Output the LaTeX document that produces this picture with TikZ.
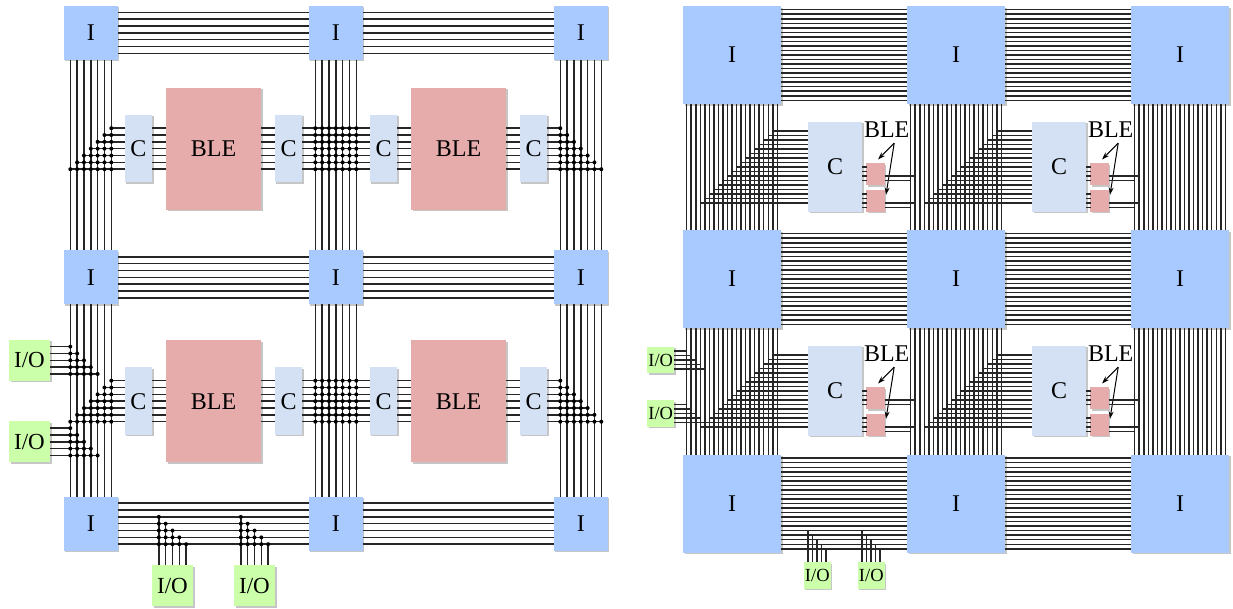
\documentclass[tikz,border=0pt]{standalone}
\usepackage{fontspec}
\setmainfont{Liberation Serif}
\usetikzlibrary{calc, shadows, arrows.meta}
\tikzset{x=1pt,y=-1pt}
\definecolor{colI}{HTML}{A9CAFF}
\definecolor{colC}{HTML}{D4E1F5}
\definecolor{colB}{HTML}{E6ACAC}
\definecolor{colO}{HTML}{CCFFAA}
\tikzset{
  box/.style={inner sep=0pt,outer sep=0pt,drop shadow={shadow xshift=1.5pt,shadow yshift=-1.5pt,opacity=.45}},
  bigtext/.style={font=\fontsize{24}{24}\selectfont},
  lI/.style={box,bigtext,fill=colI,minimum size=54pt},
  lC/.style={box,bigtext,fill=colC,minimum width=27.5pt,minimum height=67.5pt},
  lB/.style={box,bigtext,fill=colB,minimum width=95pt,minimum height=122pt},
  lO/.style={box,font=\fontsize{23}{23}\selectfont,fill=colO,minimum size=41pt},
  rI/.style={box,bigtext,fill=colI,minimum size=98pt},
  rC/.style={box,bigtext,fill=colC,minimum width=54pt,minimum height=90pt},
  rB/.style={box,fill=colB,minimum width=18.4pt,minimum height=22pt},
  rO/.style={box,font=\fontsize{18.5}{18.5}\selectfont,fill=colO,minimum size=26.7pt},
  wire/.style={line width=1.5pt,black!85},
  thin wire/.style={line width=1.5pt,black!85},
  pointer/.style={-{Stealth[length=7.5pt,width=5pt]},line width=1pt},
}
\begin{document}
\begin{tikzpicture}[declare function={lt(\i)=-20.5+6.833*\i; rt(\i)=-45.3+4.53*\i;}]
\useasboundingbox (0,0) rectangle (1233,608);
% left grid
\foreach \c/\x in {0/90.8,1/335.8,2/580.8}
  \foreach \r/\y in {0/32.8,1/277.3,2/523.7}
    \node[lI] (lI\r\c) at (\x,\y) {I};
\foreach \r/\y in {0/148.7,1/401.2}
  \foreach \c/\x in {0/0,1/245} {
    \node[lB] (lB\r\c) at (213.5+\x,\y) {BLE};
    \node[lC] (lL\r\c) at (138.5+\x,\y) {C};
    \node[lC] (lR\r\c) at (288.5+\x,\y) {C};
  }
\node[lO] (lOa) at (29.5,360.3) {I/O};
\node[lO] (lOb) at (29.5,441.8) {I/O};
\node[lO] (lOc) at (172.5,585.5) {I/O};
\node[lO] (lOd) at (254.5,585.5) {I/O};
% tracks
\foreach \i in {0,...,6} {
  \foreach \r in {0,1,2}
    \foreach \c/\d in {0/1,1/2}
      \draw[wire] ($(lI\r\c.east)+(0,{lt(\i)})$) -- ($(lI\r\d.west)+(0,{lt(\i)})$);
  \foreach \c in {0,1,2}
    \foreach \r/\s in {0/1,1/2}
      \draw[wire] ($(lI\r\c.south)+({lt(\i)},0)$) -- ($(lI\s\c.north)+({lt(\i)},0)$);
}
% C and BLE wires
\foreach \r in {0,1}
  \foreach \i in {0,...,6} {
    \foreach \c in {0,1} {
      \draw[wire] ($(lL\r\c.east)+(0,{lt(\i)})$) -- ($(lB\r\c.west)+(0,{lt(\i)})$);
      \draw[wire] ($(lB\r\c.east)+(0,{lt(\i)})$) -- ($(lR\r\c.west)+(0,{lt(\i)})$);
    }
    \draw[wire] ($(lR\r0.east)+(0,{lt(\i)})$) -- ($(lL\r1.west)+(0,{lt(\i)})$);
    \pgfmathtruncatemacro{\k}{6-\i}
    \coordinate (rowa) at ($(lL\r0.west)+(0,{lt(\i)})$);
    \coordinate (rowb) at ($(lR\r1.east)+(0,{lt(\i)})$);
    \draw[wire] ($(rowa -| lI\r0.center)+({lt(\k)},0)$) -- (rowa);
    \draw[wire] (rowb) -- ($(rowb -| lI\r2.center)+({lt(\i)},0)$);
    \foreach \j in {0,...,6} {
      \fill ($(rowa -| lI\r1.center)+({lt(\j)},0)$) circle[radius=2];
      \ifnum\j<\k\else \fill ($(rowa -| lI\r0.center)+({lt(\j)},0)$) circle[radius=2]; \fi
      \ifnum\j>\i\else \fill ($(rowb -| lI\r2.center)+({lt(\j)},0)$) circle[radius=2]; \fi
    }
  }
% left I/O
\foreach \n in {a,b}
  \foreach \i in {0,...,4} {
    \pgfmathsetmacro{\o}{(\i-2)*6.833}
    \coordinate (row) at ($(lO\n.east)+(0,\o)$);
    \draw[wire] (row) -- ($(row -| lI10.center)+({lt(\i)},0)$);
    \foreach \j in {0,...,\i}
      \fill ($(row -| lI10.center)+({lt(\j)},0)$) circle[radius=2];
  }
% bottom I/O
\foreach \n in {c,d}
  \foreach \i in {0,...,4} {
    \pgfmathsetmacro{\o}{(\i-2)*6.833}
    \pgfmathtruncatemacro{\k}{\i+2}
    \coordinate (col) at ($(lO\n.north)+(\o,0)$);
    \draw[wire] (col) -- ($(col |- lI20.center)+(0,{lt(\k)})$);
    \foreach \j in {\k,...,6}
      \fill ($(col |- lI20.center)+(0,{lt(\j)})$) circle[radius=2];
  }
% right grid
\foreach \c/\x in {0/732,1/956,2/1180}
  \foreach \r/\y in {0/55,1/279,2/503.5}
    \node[rI] (rI\r\c) at (\x,\y) {I};
\foreach \r/\y in {0/0,1/224}
  \foreach \c/\x in {0/0,1/224} {
    \node[rC] (rC\r\c) at (835+\x,166.8+\y) {C};
    \node[rB] (rBa\r\c) at (875.5+\x,174+\y) {};
    \node[rB] (rBb\r\c) at (875.5+\x,200.8+\y) {};
    \node[bigtext,inner sep=0pt] (rT\r\c) at (886.7+\x,130+\y) {BLE};
    \coordinate (rF\r\c) at ($(rT\r\c.south)+(7.5,5)$);
    \draw[pointer] (rF\r\c) -- ($(rBa\r\c.north)+(2.5,-3.5)$);
    \draw[pointer] (rF\r\c) -- ($(rBb\r\c.north east)+(1.3,5)$);
  }
\node[rO] (rOa) at (660.7,360) {I/O};
\node[rO] (rOb) at (660.7,413.5) {I/O};
\node[rO] (rOc) at (817.3,575.5) {I/O};
\node[rO] (rOd) at (871.3,575.5) {I/O};
% tracks
\foreach \i in {0,...,20} {
  \foreach \r in {0,1,2}
    \foreach \c/\d in {0/1,1/2}
      \draw[thin wire] ($(rI\r\c.east)+(0,{rt(\i)})$) -- ($(rI\r\d.west)+(0,{rt(\i)})$);
  \foreach \c in {0,1,2}
    \foreach \r/\s in {0/1,1/2}
      \draw[thin wire] ($(rI\r\c.south)+({rt(\i)},0)$) -- ($(rI\s\c.north)+({rt(\i)},0)$);
}
% C inputs and BLE wires
\foreach \r in {0,1}
  \foreach \c/\d in {0/1,1/2} {
    \foreach \i in {0,...,16} {
      \pgfmathtruncatemacro{\k}{19-\i}
      \coordinate (row) at ($(rC\r\c.west)+(0,{(\i-8)*4.5})$);
      \draw[thin wire] (row) -- ($(row -| rI\r\c.center)+({rt(\k)},0)$);
    }
    \foreach \o in {0,4.5,9,13.5}
      \draw[thin wire] ($(rC\r\c.east)+(0,\o)$) -- +(4.5,0);
    \foreach \o in {27,31.5,36,40.5}
      \draw[thin wire] ($(rC\r\c.east)+(0,\o)$) -- +(4.5,0);
    % outputs
    \foreach \n/\o/\j in {a/1.8/1,a/6.3/0,b/2/1,b/6.5/0} {
      \coordinate (row) at ($(rB\n\r\c.east)+(0,\o)$);
      \draw[thin wire] (row) -- ($(row -| rI\r\d.center)+({rt(\j)},0)$);
    }
  }
% I/O stubs
\foreach \i in {0,...,4} {
  \foreach \n in {a,b} {
    \coordinate (row) at ($(rO\n.east)+(0,{(\i-2)*4.5})$);
    \draw[thin wire] (row) -- ($(row -| rI10.center)+({rt(\i)},0)$);
  }
  \pgfmathtruncatemacro{\k}{16+\i}
  \foreach \n in {c,d} {
    \coordinate (col) at ($(rO\n.north)+({(\i-2)*4.5-.5},0)$);
    \draw[thin wire] (col) -- ($(col |- rI20.center)+(0,{rt(\k)})$);
  }
}
\end{tikzpicture}
\end{document}
